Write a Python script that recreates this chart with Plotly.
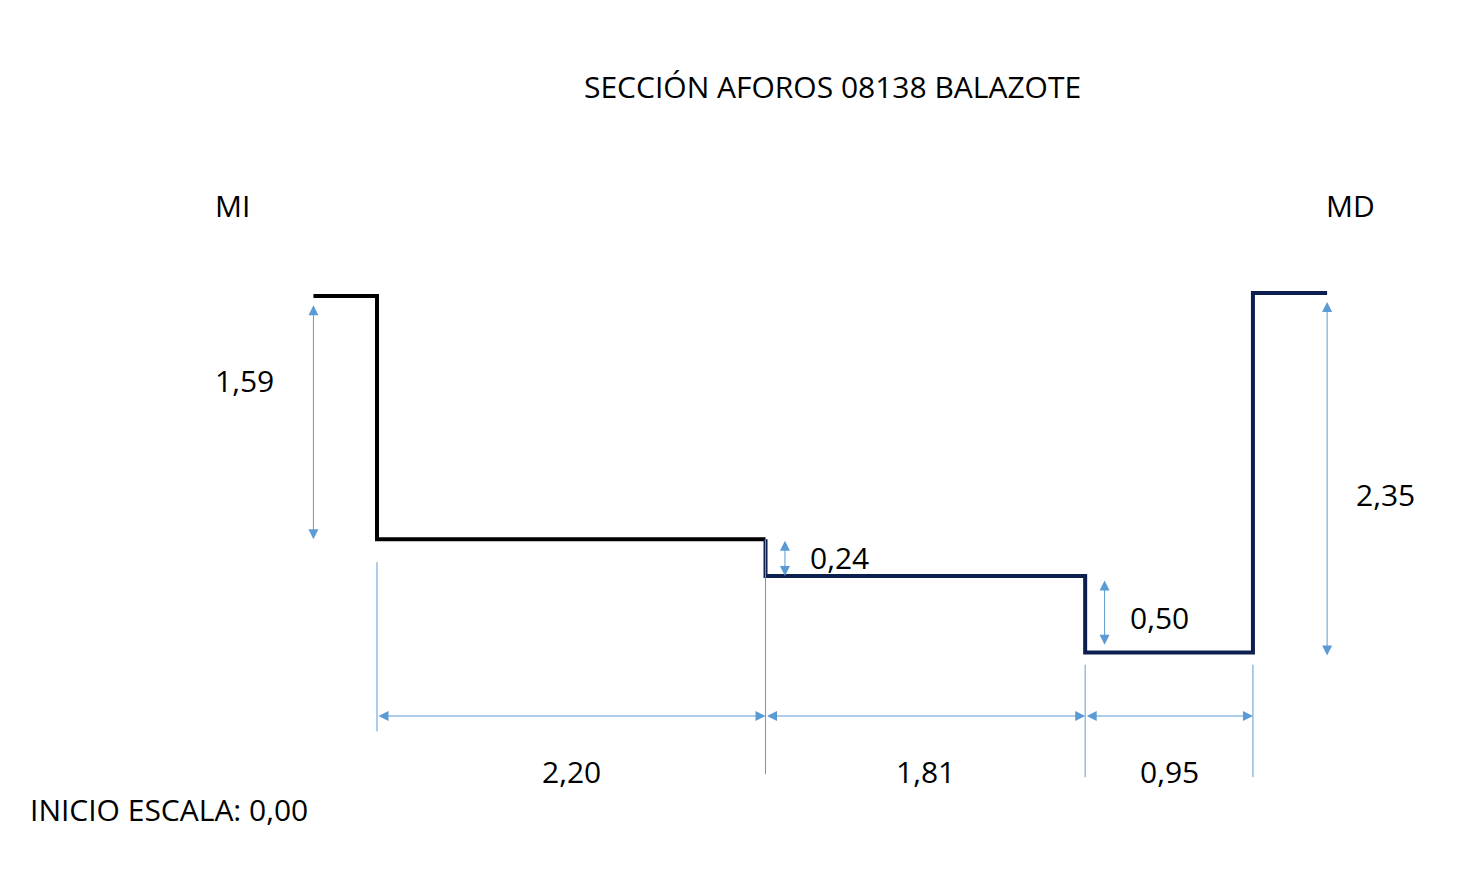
import plotly.graph_objects as go

# Section dimensions (m)
widths = [2.20, 1.81, 0.95]
drops = [1.59, 0.24, 0.50]
rise_right = 2.35
labels_w = ["2,20", "1,81", "0,95"]
labels_h = ["1,59", "0,24", "0,50", "2,35"]
lip_left, lip_right = 0.36, 0.42

# build profile from the dimensions
xs = [0.0, widths[0], widths[0] + widths[1], sum(widths)]
ys = [0.0, -drops[0], -drops[0] - drops[1], -sum(drops)]
y_right = ys[3] + rise_right

blue = "#5b9bd5"
fig = go.Figure()
fig.add_trace(go.Scatter(x=[-lip_left, xs[0], xs[0], xs[1]], y=[ys[0], ys[0], ys[1], ys[1]],
                         mode="lines", line=dict(color="black", width=4), hoverinfo="skip"))
fig.add_trace(go.Scatter(x=[xs[1], xs[1], xs[2], xs[2], xs[3], xs[3], xs[3] + lip_right],
                         y=[ys[1], ys[2], ys[2], ys[3], ys[3], y_right, y_right],
                         mode="lines", line=dict(color="#0d1f4f", width=4), hoverinfo="skip"))

px = 153.0  # px per metre (vertical)
sx = 176.6  # px per metre (horizontal)
dim_y = ys[0] - (716 - 296) / px

def arrow(x0, y0, x1, y1):
    fig.add_annotation(x=x1, y=y1, ax=x0, ay=y0, xref="x", yref="y", axref="x", ayref="y",
                       text="", showarrow=True, arrowhead=2, arrowside="end+start",
                       arrowwidth=1, arrowsize=2, arrowcolor=blue, standoff=0, startstandoff=0)

# vertical dimensions
arrow(-lip_left, ys[0] - 0.05, -lip_left, ys[1])
arrow(xs[1] + 0.11, ys[1], xs[1] + 0.11, ys[2])
arrow(xs[2] + 0.11, ys[2] - 0.02, xs[2] + 0.11, ys[3] + 0.05)
arrow(xs[3] + lip_right, y_right - 0.05, xs[3] + lip_right, ys[3] - 0.02)

# extension lines
ext = [(xs[0], ys[1] - 0.15, dim_y - 0.1), (xs[1], ys[1], dim_y - 0.38),
       (xs[2], ys[3] - 0.08, dim_y - 0.4), (xs[3], ys[3] - 0.08, dim_y - 0.4)]
for x, a, b in ext:
    fig.add_shape(type="line", x0=x, x1=x, y0=a, y1=b, line=dict(color=blue, width=1))
for i in range(3):
    arrow(xs[i], dim_y, xs[i + 1], dim_y)

font = dict(family="Open Sans, Noto Sans, sans-serif", size=30, color="black")
def txt(x, y, s):
    fig.add_annotation(x=x, y=y, text=s, showarrow=False, font=font, xref="x", yref="y")

for i, s in enumerate(labels_w):
    txt((xs[i] + xs[i + 1]) / 2, dim_y - 0.36, s)
txt(-0.75, -0.55, labels_h[0])
txt(xs[1] + 0.42, ys[1] - 0.12, labels_h[1])
txt(xs[2] + 0.42, ys[2] - 0.27, labels_h[2])
txt(xs[3] + 0.75, -1.30, labels_h[3])
txt(-0.82, 0.59, "MI")
txt(xs[3] + 0.55, 0.59, "MD")
txt(-1.18, dim_y - 0.61, "INICIO ESCALA: 0,00")
fig.add_annotation(x=2.58, y=1.37, text="SECCIÓN AFOROS 08138 BALAZOTE", showarrow=False,
                   font=font, xref="x", yref="y")

# page body has an 8px margin, shift the ranges to compensate
fig.update_layout(width=1476, height=885, margin=dict(l=0, r=0, t=0, b=0),
                  plot_bgcolor="white", paper_bgcolor="white", showlegend=False,
                  xaxis=dict(range=[-369 / sx, 1107 / sx], visible=False),
                  yaxis=dict(range=[-(885 - 288) / px, 288 / px], visible=False))
fig.write_html("out.html")
